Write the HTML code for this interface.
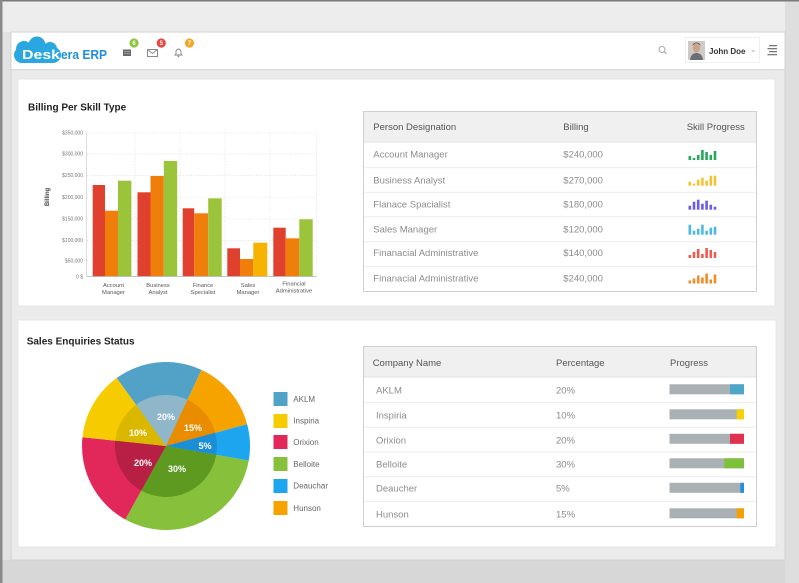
<!DOCTYPE html>
<html><head><meta charset="utf-8"><style>
html,body{margin:0;padding:0;width:799px;height:583px;overflow:hidden;background:#e4e4e4}
svg{display:block}
text{font-family:"Liberation Sans",sans-serif}
</style></head><body>
<svg width="799" height="583" viewBox="0 0 799 583" xmlns="http://www.w3.org/2000/svg">
<!-- outer background -->
<rect x="0" y="0" width="799" height="583" fill="#e2e2e2"/>
<rect x="0" y="0" width="799" height="32" fill="#ededed"/>
<rect x="0" y="560" width="799" height="23" fill="#d7d7d7"/>
<rect x="785" y="0" width="14" height="583" fill="#dedede"/>
<rect x="0" y="0" width="799" height="1.5" fill="#7a7a7a"/>
<rect x="0" y="0" width="2.5" height="583" fill="#8a8a8a"/>
<!-- window -->
<rect x="11" y="32" width="774" height="528" fill="#ebebeb" stroke="#d2d2d2" stroke-width="1"/>
<rect x="11.5" y="32.5" width="773" height="36.5" fill="#ffffff"/>
<rect x="11.5" y="69" width="773" height="1.5" fill="#dcdcdc"/>
<!-- logo -->
<g fill="#2aa7e1">
<rect x="14" y="47" width="47" height="16" rx="8"/>
<circle cx="24" cy="49" r="8"/>
<circle cx="37" cy="45" r="8.5"/>
<circle cx="50" cy="49" r="7"/>
</g>
<text x="22" y="59" font-size="13" font-weight="bold" fill="#ffffff" textLength="38" lengthAdjust="spacingAndGlyphs">Desk</text>
<text x="61" y="59" font-size="13" font-weight="bold" fill="#1f8fd6" textLength="46" lengthAdjust="spacingAndGlyphs">era ERP</text>
<!-- header icons -->
<rect x="123" y="49.5" width="8" height="6.5" fill="#6a6a6a"/>
<line x1="124" y1="51.5" x2="130" y2="51.5" stroke="#bbb" stroke-width="0.6"/>
<line x1="124" y1="53.5" x2="130" y2="53.5" stroke="#bbb" stroke-width="0.6"/>
<rect x="147.5" y="49.5" width="10" height="7" fill="none" stroke="#8a8a8a" stroke-width="1"/>
<polyline points="147.5,49.5 152.5,53.5 157.5,49.5" fill="none" stroke="#8a8a8a" stroke-width="0.9"/>
<path d="M175 55 L176 54 L176 51 Q178.5 47 181 51 L181 54 L182 55 Z" fill="none" stroke="#8a8a8a" stroke-width="0.9"/>
<circle cx="178.5" cy="56.3" r="0.9" fill="#8a8a8a"/>
<circle cx="134" cy="43" r="4.6" fill="#8dc63f"/>
<text x="134" y="45.2" font-size="6" fill="#fff" text-anchor="middle" font-weight="bold">6</text>
<circle cx="161.3" cy="43" r="4.6" fill="#e9473f"/>
<text x="161.3" y="45.2" font-size="6" fill="#fff" text-anchor="middle" font-weight="bold">5</text>
<circle cx="189.5" cy="43" r="4.6" fill="#f5a623"/>
<text x="189.5" y="45.2" font-size="6" fill="#fff" text-anchor="middle" font-weight="bold">7</text>
<!-- right header -->
<circle cx="662" cy="49.5" r="3" fill="none" stroke="#ababab" stroke-width="1.1"/>
<line x1="664.2" y1="51.7" x2="666.5" y2="54" stroke="#ababab" stroke-width="1.2"/>
<rect x="685.5" y="37.5" width="74" height="25" fill="#fff" stroke="#f0f0f0"/>
<rect x="688" y="41" width="17" height="19" fill="#cfcac4"/>
<ellipse cx="696.5" cy="48" rx="3.6" ry="4.5" fill="#c9a48a"/>
<path d="M692.5 46 Q696.5 40.5 700.5 46 L700 44 Q696.5 41 693 44 Z" fill="#5a4a40"/>
<path d="M690 60 Q691 53 696.5 53 Q702 53 703 60 Z" fill="#6b6f74"/>
<text x="709" y="53.8" font-size="8" font-weight="bold" fill="#333">John Doe</text>
<rect x="751.5" y="50.5" width="3" height="1" fill="#aaa"/>
<g fill="#777">
<rect x="769" y="45" width="8" height="1.3"/>
<rect x="767.5" y="48" width="9.5" height="1.3"/>
<rect x="769" y="51" width="8" height="1.3"/>
<rect x="767.5" y="54" width="9.5" height="1.3"/>
</g>
<!-- panels -->
<rect x="18" y="79" width="757" height="227" fill="#ffffff" stroke="#e2e2e2" stroke-width="0.8"/>
<rect x="18" y="320" width="758" height="227" fill="#ffffff" stroke="#e2e2e2" stroke-width="0.8"/>
<!-- Bar chart -->
<text x="28" y="110.5" font-size="10" font-weight="bold" fill="#222">Billing Per Skill Type</text>
<g stroke="#dcdcdc" stroke-width="0.7" stroke-dasharray="1,1.6">
<line x1="87" y1="132.8" x2="316.5" y2="132.8"/>
<line x1="87" y1="154" x2="316.5" y2="154"/>
<line x1="87" y1="175.5" x2="316.5" y2="175.5"/>
<line x1="87" y1="197.2" x2="316.5" y2="197.2"/>
<line x1="87" y1="219" x2="316.5" y2="219"/>
<line x1="87" y1="240.5" x2="316.5" y2="240.5"/>
<line x1="87" y1="261" x2="316.5" y2="261"/>
<line x1="135" y1="132.8" x2="135" y2="276.5"/>
<line x1="180" y1="132.8" x2="180" y2="276.5"/>
<line x1="225" y1="132.8" x2="225" y2="276.5"/>
<line x1="270" y1="132.8" x2="270" y2="276.5"/>
<line x1="316.5" y1="132.8" x2="316.5" y2="276.5"/>
</g>
<line x1="86.5" y1="132.8" x2="86.5" y2="277" stroke="#d5d5d5" stroke-width="0.8"/>
<g font-size="5" fill="#777" text-anchor="end">
<text x="83" y="134.5">$350,000</text>
<text x="83" y="155.7">$300,000</text>
<text x="83" y="177.2">$250,000</text>
<text x="83" y="198.9">$200,000</text>
<text x="83" y="220.7">$150,000</text>
<text x="83" y="242.2">$100,000</text>
<text x="83" y="262.7">$50,000</text>
<text x="83" y="278.4">0 $</text>
</g>
<text transform="translate(49,197) rotate(-90)" font-size="6" font-weight="bold" fill="#444" text-anchor="middle">Billing</text>
<!-- bars -->
<g>
<rect x="92.7" y="185" width="12.3" height="91.5" fill="#e0402e"/>
<rect x="105" y="210.7" width="13" height="65.8" fill="#ef7e0b"/>
<rect x="118" y="180.7" width="13.4" height="95.8" fill="#9cc43a"/>

<rect x="137.5" y="192.3" width="13" height="84.2" fill="#e0402e"/>
<rect x="150.5" y="176" width="13.3" height="100.5" fill="#ef7e0b"/>
<rect x="163.8" y="161" width="13.4" height="115.5" fill="#9cc43a"/>

<rect x="182.7" y="208.3" width="11.5" height="68.2" fill="#e0402e"/>
<rect x="194.2" y="213.3" width="14" height="63.2" fill="#ef7e0b"/>
<rect x="208.2" y="198.3" width="13.5" height="78.2" fill="#9cc43a"/>

<rect x="227.3" y="248.3" width="12.7" height="28.2" fill="#e0402e"/>
<rect x="240" y="259" width="13.3" height="17.5" fill="#ef7e0b"/>
<rect x="253.3" y="242.7" width="14" height="33.8" fill="#f6b400"/>

<rect x="273.3" y="227.7" width="12.4" height="48.8" fill="#e0402e"/>
<rect x="285.7" y="238.3" width="13.6" height="38.2" fill="#ef7e0b"/>
<rect x="299.3" y="219.3" width="13.4" height="57.2" fill="#9cc43a"/>
</g>
<line x1="86.5" y1="276.5" x2="316.5" y2="276.5" stroke="#b5b5b5" stroke-width="0.8"/>
<g font-size="5.8" fill="#555" text-anchor="middle">
<text x="113.5" y="287">Account</text><text x="113.5" y="294">Manager</text>
<text x="158" y="287">Business</text><text x="158" y="294">Analyst</text>
<text x="203" y="287">Finance</text><text x="203" y="294">Specialist</text>
<text x="248" y="287">Sales</text><text x="248" y="294">Manager</text>
<text x="294" y="285.5">Financial</text><text x="294" y="292.5">Administrative</text>
</g>
<!-- Table 1 -->
<rect x="363.5" y="111.5" width="393" height="180" fill="#fff" stroke="#cfcfcf" stroke-width="1"/>
<rect x="364" y="112" width="392" height="30" fill="#f0f0f0"/>
<line x1="364" y1="142" x2="756" y2="142" stroke="#e2e2e2"/>
<g stroke="#ececec" stroke-width="0.9">
<line x1="364" y1="167.7" x2="756" y2="167.7"/>
<line x1="364" y1="192.3" x2="756" y2="192.3"/>
<line x1="364" y1="216.7" x2="756" y2="216.7"/>
<line x1="364" y1="241.7" x2="756" y2="241.7"/>
<line x1="364" y1="266.7" x2="756" y2="266.7"/>
</g>
<g font-size="9.5" fill="#555">
<text x="373.3" y="130">Person Designation</text>
<text x="563.3" y="130">Billing</text>
<text x="686.7" y="130">Skill Progress</text>
</g>
<g font-size="9.5" fill="#8c8c8c">
<text x="373.3" y="157.6">Account Manager</text><text x="563.3" y="157.6">$240,000</text>
<text x="373.3" y="183.3">Business Analyst</text><text x="563.3" y="183.3">$270,000</text>
<text x="373.3" y="207.3">Flanace Spacialist</text><text x="563.3" y="207.3">$180,000</text>
<text x="373.3" y="232.3">Sales Manager</text><text x="563.3" y="232.3">$120,000</text>
<text x="373.3" y="256">Finanacial Administrative</text><text x="563.3" y="256">$140,000</text>
<text x="373.3" y="281.3">Finanacial Administrative</text><text x="563.3" y="281.3">$240,000</text>
</g>
<!-- mini bars -->
<g fill="#27a95a">
<rect x="688.5" y="156" width="2.6" height="4"/><rect x="692.7" y="158" width="2.6" height="2"/><rect x="696.9" y="155" width="2.6" height="5"/><rect x="701.1" y="150" width="2.6" height="10"/><rect x="705.3" y="152" width="2.6" height="8"/><rect x="709.5" y="155" width="2.6" height="5"/><rect x="713.7" y="151" width="2.6" height="9"/>
</g>
<g fill="#f6c234">
<rect x="688.5" y="181.7" width="2.6" height="4"/><rect x="692.7" y="183.7" width="2.6" height="2"/><rect x="696.9" y="179.7" width="2.6" height="6"/><rect x="701.1" y="177.7" width="2.6" height="8"/><rect x="705.3" y="180.7" width="2.6" height="5"/><rect x="709.5" y="175.7" width="2.6" height="10"/><rect x="713.7" y="175.7" width="2.6" height="10"/>
</g>
<g fill="#6c5ce7">
<rect x="688.5" y="205.7" width="2.6" height="4"/><rect x="692.7" y="201.7" width="2.6" height="8"/><rect x="696.9" y="199.7" width="2.6" height="10"/><rect x="701.1" y="203.7" width="2.6" height="6"/><rect x="705.3" y="200.7" width="2.6" height="9"/><rect x="709.5" y="204.7" width="2.6" height="5"/><rect x="713.7" y="206.7" width="2.6" height="3"/>
</g>
<g fill="#4cb8ea">
<rect x="688.5" y="224.7" width="2.6" height="10"/><rect x="692.7" y="230.7" width="2.6" height="4"/><rect x="696.9" y="228.7" width="2.6" height="6"/><rect x="701.1" y="224.7" width="2.6" height="10"/><rect x="705.3" y="230.7" width="2.6" height="4"/><rect x="709.5" y="227.7" width="2.6" height="7"/><rect x="713.7" y="226.7" width="2.6" height="8"/>
</g>
<g fill="#ef5b50">
<rect x="688.5" y="255" width="2.6" height="3"/><rect x="692.7" y="252" width="2.6" height="6"/><rect x="696.9" y="249" width="2.6" height="9"/><rect x="701.1" y="254" width="2.6" height="4"/><rect x="705.3" y="248" width="2.6" height="10"/><rect x="709.5" y="250" width="2.6" height="8"/><rect x="713.7" y="252" width="2.6" height="6"/>
</g>
<g fill="#f28c28">
<rect x="688.5" y="280.5" width="2.6" height="3"/><rect x="692.7" y="278.5" width="2.6" height="5"/><rect x="696.9" y="275.5" width="2.6" height="8"/><rect x="701.1" y="277.5" width="2.6" height="6"/><rect x="705.3" y="273.5" width="2.6" height="10"/><rect x="709.5" y="279.5" width="2.6" height="4"/><rect x="713.7" y="274.5" width="2.6" height="9"/>
</g>
<!-- Pie chart -->
<text x="26.7" y="344.5" font-size="10" font-weight="bold" fill="#222">Sales Enquiries Status</text>
<g>
<path d="M166 446 L116.62 378.04 A84 84 0 0 1 201.50 369.87 Z" fill="#52a2c8"/>
<path d="M166 446 L201.50 369.87 A84 84 0 0 1 247.14 424.26 Z" fill="#f6a300"/>
<path d="M166 446 L247.14 424.26 A84 84 0 0 1 248.72 460.58 Z" fill="#1ea5ef"/>
<path d="M166 446 L248.72 460.58 A84 84 0 0 1 125.28 519.47 Z" fill="#87c13c"/>
<path d="M166 446 L125.28 519.47 A84 84 0 0 1 82.46 437.22 Z" fill="#e2285a"/>
<path d="M166 446 L82.46 437.22 A84 84 0 0 1 116.62 378.04 Z" fill="#f6cc00"/>
<path d="M166 446 L136.02 404.74 A51 51 0 0 1 187.55 399.78 Z" fill="#8fb7c9"/>
<path d="M166 446 L187.55 399.78 A51 51 0 0 1 215.26 432.80 Z" fill="#e98c00"/>
<path d="M166 446 L215.26 432.80 A51 51 0 0 1 216.22 454.85 Z" fill="#1a8ed6"/>
<path d="M166 446 L216.22 454.85 A51 51 0 0 1 141.27 490.60 Z" fill="#5e9a20"/>
<path d="M166 446 L141.27 490.60 A51 51 0 0 1 115.28 440.67 Z" fill="#b81f45"/>
<path d="M166 446 L115.28 440.67 A51 51 0 0 1 136.02 404.74 Z" fill="#dbb800"/>
</g>
<g font-size="9" font-weight="bold" fill="#ffffff" text-anchor="middle">
<text x="166" y="420">20%</text>
<text x="193" y="431.2">15%</text>
<text x="138" y="436.2">10%</text>
<text x="205" y="449.2">5%</text>
<text x="143" y="466.2">20%</text>
<text x="177" y="472.2">30%</text>
</g>
<!-- legend -->
<rect x="273.5" y="392" width="14" height="14" fill="#52a2c8"/>
<rect x="273.5" y="414" width="14" height="14" fill="#f6cc00"/>
<rect x="273.5" y="435" width="14" height="14" fill="#e2285a"/>
<rect x="273.5" y="457" width="14" height="14" fill="#87c13c"/>
<rect x="273.5" y="479" width="14" height="14" fill="#1ea5ef"/>
<rect x="273.5" y="501" width="14" height="14" fill="#f6a300"/>
<g font-size="8" fill="#666">
<text x="293.3" y="401.8">AKLM</text>
<text x="293.3" y="423.5">Inspiria</text>
<text x="293.3" y="444.8">Orixion</text>
<text x="293.3" y="466.8">Belloite</text>
<text x="293.3" y="488.5">Deauchar</text>
<text x="293.3" y="510.8">Hunson</text>
</g>
<!-- Table 2 -->
<rect x="363.5" y="346.5" width="393" height="180" fill="#fff" stroke="#cfcfcf" stroke-width="1"/>
<rect x="364" y="347" width="392" height="30" fill="#f0f0f0"/>
<line x1="364" y1="377" x2="756" y2="377" stroke="#e2e2e2"/>
<g stroke="#ececec" stroke-width="0.9">
<line x1="364" y1="402.7" x2="756" y2="402.7"/>
<line x1="364" y1="427.3" x2="756" y2="427.3"/>
<line x1="364" y1="452" x2="756" y2="452"/>
<line x1="364" y1="476.7" x2="756" y2="476.7"/>
<line x1="364" y1="501.3" x2="756" y2="501.3"/>
</g>
<g font-size="9.5" fill="#555">
<text x="372.7" y="366">Company Name</text>
<text x="556" y="366">Percentage</text>
<text x="670" y="366">Progress</text>
</g>
<g font-size="9.5" fill="#8c8c8c">
<text x="376" y="393.3">AKLM</text><text x="556" y="393.3">20%</text>
<text x="376" y="418.3">Inspiria</text><text x="556" y="418.3">10%</text>
<text x="376" y="443.3">Orixion</text><text x="556" y="443.3">20%</text>
<text x="376" y="467.3">Belloite</text><text x="556" y="467.3">30%</text>
<text x="376" y="491.3">Deaucher</text><text x="556" y="491.3">5%</text>
<text x="376" y="517.3">Hunson</text><text x="556" y="517.3">15%</text>
</g>
<g fill="#aab1b4">
<rect x="669.5" y="384.3" width="74.5" height="10"/>
<rect x="669.5" y="409.3" width="74.5" height="10"/>
<rect x="669.5" y="433.8" width="74.5" height="10"/>
<rect x="669.5" y="458.3" width="74.5" height="10"/>
<rect x="669.5" y="482.8" width="74.5" height="10"/>
<rect x="669.5" y="508.3" width="74.5" height="10"/>
</g>
<rect x="730" y="384.3" width="14" height="10" fill="#4ba6c8"/>
<rect x="736.7" y="409.3" width="7.3" height="10" fill="#f5d200"/>
<rect x="730" y="433.8" width="14" height="10" fill="#e0314f"/>
<rect x="724.3" y="458.3" width="19.7" height="10" fill="#7dc03a"/>
<rect x="740.3" y="482.8" width="3.7" height="10" fill="#1e90e0"/>
<rect x="736.7" y="508.3" width="7.3" height="10" fill="#f5a000"/>
</svg>
</body></html>
